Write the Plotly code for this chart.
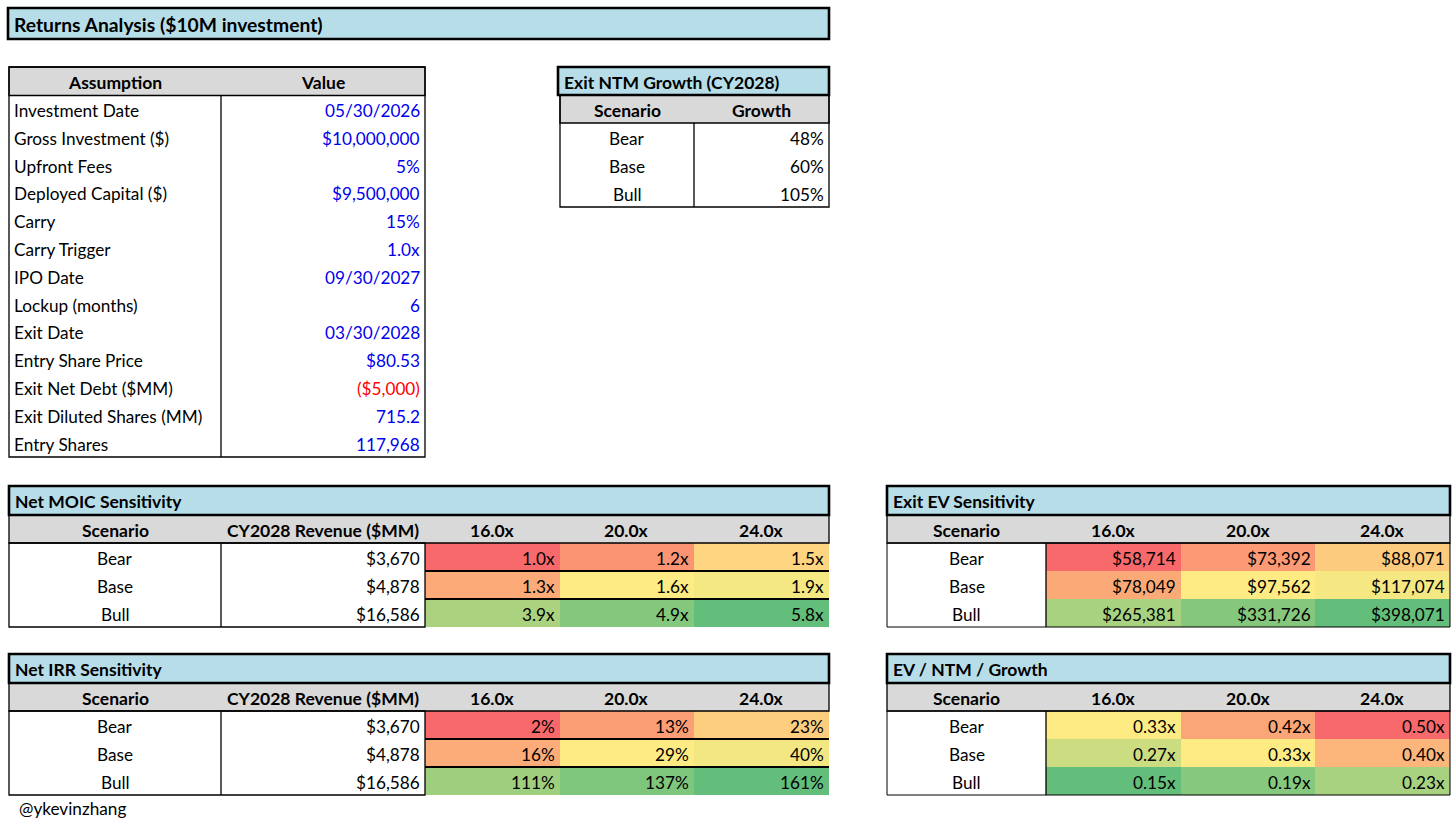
import plotly.graph_objects as go

W, H = 1456, 821
FONT = "Lato"
FS = 17.2
FS_BOLD = 17.5
FS_TITLE = 19.3
BLUE_FILL = "#B7DEE8"
GRAY_FILL = "#D9D9D9"
INPUT_BLUE = "#0000EE"
NEG_RED = "#FF0000"
RED, YELLOW, GREEN = "#F8696B", "#FFEB84", "#63BE7B"

# ---- data ----
page_title = "Returns Analysis ($10M investment)"
assumption_labels = ["Investment Date", "Gross Investment ($)", "Upfront Fees",
                     "Deployed Capital ($)", "Carry", "Carry Trigger", "IPO Date",
                     "Lockup (months)", "Exit Date", "Entry Share Price",
                     "Exit Net Debt ($MM)", "Exit Diluted Shares (MM)", "Entry Shares"]
assumption_values = ["05/30/2026", "$10,000,000", "5%", "$9,500,000", "15%", "1.0x",
                     "09/30/2027", "6", "03/30/2028", "$80.53", "($5,000)", "715.2",
                     "117,968"]

scenarios = ["Bear", "Base", "Bull"]
ntm_growth = [48, 60, 105]              # %
revenue_2028 = [3670, 4878, 16586]      # $MM
exit_multiples = [16.0, 20.0, 24.0]

net_moic = [[1.0, 1.2, 1.5], [1.3, 1.6, 1.9], [3.9, 4.9, 5.8]]
net_irr = [[2, 13, 23], [16, 29, 40], [111, 137, 161]]
exit_ev = [[58714, 73392, 88071], [78049, 97562, 117074], [265381, 331726, 398071]]
ev_ntm_growth = [[0.33, 0.42, 0.50], [0.27, 0.33, 0.40], [0.15, 0.19, 0.23]]

handle = "@ykevinzhang"

fig = go.Figure()
shapes = []
annotations = []


def rect(x0, y0, x1, y1, fill=None, lw=0, layer="above"):
    shapes.append(dict(type="rect", xref="x", yref="y", x0=x0, y0=y0, x1=x1, y1=y1,
                       fillcolor=fill or "rgba(0,0,0,0)", layer=layer,
                       line=dict(color="black", width=lw)))


def line(x0, y0, x1, y1, lw=1.3):
    shapes.append(dict(type="line", xref="x", yref="y", x0=x0, y0=y0, x1=x1, y1=y1,
                       line=dict(color="black", width=lw)))


def text(x, y, s, anchor="left", bold=False, color="black", size=None):
    annotations.append(dict(x=x, y=y + 1, xref="x", yref="y", showarrow=False,
                            text=f"<b>{s}</b>" if bold else s,
                            xanchor=anchor, yanchor="middle",
                            font=dict(family=FONT, color=color,
                                      size=size or (FS_BOLD if bold else FS))))


def title_box(x0, y0, x1, y1, s, size=None):
    rect(x0, y0, x1, y1, fill=BLUE_FILL, layer="below")
    rect(x0, y0, x1, y1, lw=2.6)
    text(x0 + 4, (y0 + y1) / 2, s, bold=True, size=size)


def header_row(cols, y0, y1, labels):
    rect(cols[0], y0, cols[-1], y1, fill=GRAY_FILL, layer="below")
    rect(cols[0], y0, cols[-1], y1, lw=1.3)
    for i, lab in enumerate(labels):
        text((cols[i] + cols[i + 1]) / 2, (y0 + y1) / 2, lab, anchor="center", bold=True)


def heat(x_edges, y_edges, z, reverse=False):
    # excel-style 3 colour scale: min / 50th percentile / max
    flat = sorted(v for row in z for v in row)
    lo, hi, mid = flat[0], flat[-1], flat[len(flat) // 2]
    p = (mid - lo) / (hi - lo)
    ends = (GREEN, RED) if reverse else (RED, GREEN)
    fig.add_trace(go.Heatmap(x=x_edges, y=y_edges, z=z, zmin=lo, zmax=hi,
                             colorscale=[[0, ends[0]], [p, YELLOW], [1, ends[1]]],
                             showscale=False, hoverinfo="skip", zsmooth=False))


# ---- page title ----
title_box(8, 8, 829, 39, page_title, size=FS_TITLE)

# ---- assumptions table ----
a_cols = [9, 221, 425]
a_top, a_head = 67, 95.5
a_rh = (457 - a_head) / len(assumption_labels)
header_row(a_cols, a_top, a_head, ["Assumption", "Value"])
for i, (lab, val) in enumerate(zip(assumption_labels, assumption_values)):
    yc = a_head + a_rh * (i + 0.5)
    text(a_cols[0] + 3, yc, lab)
    text(a_cols[2] - 3, yc, val, anchor="right",
         color=NEG_RED if val.startswith("(") else INPUT_BLUE)
rect(a_cols[0], a_top, a_cols[2], a_head + a_rh * len(assumption_labels), lw=1.3)
line(a_cols[1], a_head, a_cols[1], a_head + a_rh * len(assumption_labels))

# ---- exit NTM growth table ----
g_cols = [560, 694, 829]
title_box(558, 67, 829, 95, "Exit NTM Growth (CY2028)")
header_row(g_cols, 95, 123, ["Scenario", "Growth"])
for i, (sc, g) in enumerate(zip(scenarios, ntm_growth)):
    yc = 123 + 28 * (i + 0.5)
    text((g_cols[0] + g_cols[1]) / 2, yc, sc, anchor="center")
    text(g_cols[2] - 3, yc, f"{g}%", anchor="right")
rect(g_cols[0], 95, g_cols[2], 207, lw=1.3)
line(g_cols[1], 123, g_cols[1], 207)

# ---- sensitivity tables ----
mult_labels = [f"{m:.1f}x" for m in exit_multiples]
rev_text = [f"${r:,}" for r in revenue_2028]
RH = 28


def sensitivity(cols, y0, title, left_text, z, fmt, reverse=False, left_side=True):
    n_left = len(left_text)
    title_box(cols[0], y0, cols[-1], y0 + 29, title)
    hy0, hy1 = y0 + 29, y0 + 57
    labels = ["Scenario", "CY2028 Revenue ($MM)"][:n_left] + mult_labels
    header_row(cols, hy0, hy1, labels)
    ys = [hy1 + RH * k for k in range(len(scenarios) + 1)]
    heat(cols[n_left:], ys, z, reverse)
    for i in range(len(scenarios)):
        yc = (ys[i] + ys[i + 1]) / 2
        for j, col_vals in enumerate(left_text):
            if j == 0:
                text((cols[0] + cols[1]) / 2, yc, col_vals[i], anchor="center")
            else:
                text(cols[j + 1] - 3, yc, col_vals[i], anchor="right")
        for k, v in enumerate(z[i]):
            text(cols[n_left + k + 1] - 3, yc, fmt(v), anchor="right")
    if left_side:
        rect(cols[0], hy1, cols[n_left], ys[-1], lw=1.3)
        for j in range(1, n_left):
            line(cols[j], hy1, cols[j], ys[-1])
        for y in ys[1:-1]:
            line(cols[n_left], y, cols[-1], y, lw=1.8)
    else:
        rect(cols[0], hy1, cols[-1], ys[-1], lw=1.0)
        line(cols[1], hy1, cols[1], ys[-1])


L_COLS = [9, 221, 425, 559.5, 694, 829]
R_COLS = [887, 1046, 1181, 1315.5, 1450]

sensitivity(L_COLS, 486, "Net MOIC Sensitivity", [scenarios, rev_text], net_moic,
            lambda v: f"{v:.1f}x")
sensitivity(L_COLS, 654, "Net IRR Sensitivity", [scenarios, rev_text], net_irr,
            lambda v: f"{v}%")
sensitivity(R_COLS, 486, "Exit EV Sensitivity", [scenarios], exit_ev,
            lambda v: f"${v:,}", left_side=False)
sensitivity(R_COLS, 654, "EV / NTM / Growth", [scenarios], ev_ntm_growth,
            lambda v: f"{v:.2f}x", reverse=True, left_side=False)

text(17, 807, handle)

fig.update_layout(
    width=W, height=H,
    margin=dict(l=0, r=0, t=0, b=0),
    paper_bgcolor="white", plot_bgcolor="white",
    xaxis=dict(range=[0, W], visible=False, fixedrange=True),
    yaxis=dict(range=[H, 0], visible=False, fixedrange=True),
    shapes=shapes, annotations=annotations,
    showlegend=False,
)

# the browser's default 8px body margin would push the sheet off the window
fig.write_html("out.html", config={"displayModeBar": False},
               post_script="document.body.style.margin='0';")
